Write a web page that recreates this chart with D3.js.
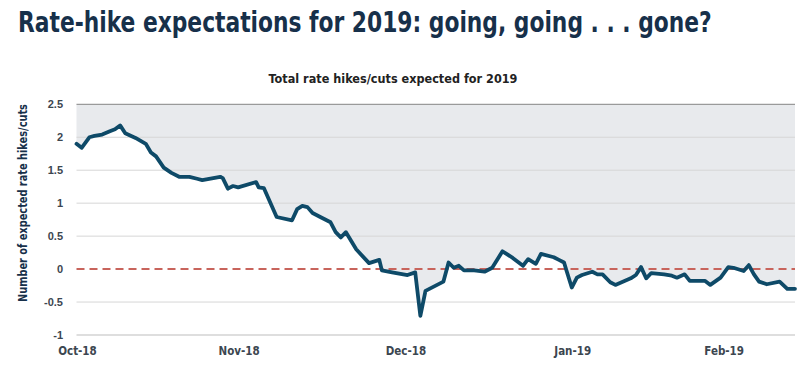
<!DOCTYPE html>
<html><head><meta charset="utf-8">
<script src="https://cdn.jsdelivr.net/npm/d3@7"></script>
<style>body{margin:0;background:#fff;}svg{display:block;}</style>
</head><body>
<script>
// observation index (trading-session position along the axis)
const obsIndex = [0,1,2.5,3.5,5,6.5,7.5,8.5,9.5,11.5,13.5,14.5,15.5,17,18.5,20,22,23.5,24.5,28,28.5,29.5,30.5,31.5,35,35.5,36.5,39,42,43,44,45,46,47.5,49.5,50.5,51.5,52.5,54.5,57,59,59.5,61.5,64.5,66,67,68,71.5,72.5,73.5,74.5,75.5,77.5,79.5,81,83,85,87,88,89.5,90.5,93,94,95,95.5,96.5,97.5,98.5,100.5,101.5,102.5,104,105,108,109,110,111,112,114.5,116,117,118.5,119.5,122.5,123.5,125.5,127,128,130,131,132,133,134.5,137,138.5,140];
const expectedHikes = [1.90,1.84,2.00,2.02,2.04,2.09,2.12,2.18,2.06,1.99,1.90,1.77,1.71,1.54,1.46,1.40,1.40,1.37,1.35,1.40,1.38,1.22,1.26,1.24,1.32,1.24,1.23,0.79,0.74,0.91,0.96,0.94,0.85,0.79,0.71,0.56,0.48,0.56,0.30,0.09,0.14,-0.02,-0.05,-0.09,-0.05,-0.71,-0.33,-0.19,0.10,0.02,0.05,-0.02,-0.02,-0.04,0.02,0.27,0.17,0.05,0.15,0.08,0.23,0.18,0.14,0.10,-0.03,-0.28,-0.13,-0.09,-0.04,-0.08,-0.08,-0.20,-0.24,-0.14,-0.09,0.03,-0.14,-0.06,-0.08,-0.10,-0.13,-0.08,-0.18,-0.18,-0.24,-0.13,0.03,0.02,-0.03,0.06,-0.08,-0.19,-0.23,-0.19,-0.30,-0.30];
const xTickIndex = [0,31.5,64,96.5,126];
const xTickLabels = ["Oct-18","Nov-18","Dec-18","Jan-19","Feb-19"];
const yTicks = [-1,-0.5,0,0.5,1,1.5,2,2.5];
const yTickLabels = ["-1","-0.5","0","0.5","1","1.5","2","2.5"];

const W=800,H=369;
const svg=d3.select("body").append("svg").attr("width",W).attr("height",H);
const x=d3.scaleLinear().domain([0,140]).range([76.5,795]);
const y=d3.scaleLinear().domain([-1,2.5]).range([335,104.3]);
const data=obsIndex.map((d,i)=>({i:d,v:expectedHikes[i]}));

// place text squeezed horizontally to a target width (anchor: start or middle)
function fitText(g, str, targetW, anchor){
  const t=g.append("text").attr("text-anchor",anchor).text(str);
  return t;
}
function squeeze(t, targetW, anchorX, baseY, rotate){
  const w=t.node().getComputedTextLength();
  const s=Math.min(1,targetW/w);
  if(rotate){
    t.attr("transform",`translate(${anchorX},${baseY}) rotate(-90) scale(${s},1)`);
  } else {
    t.attr("transform",`translate(${anchorX},${baseY}) scale(${s},1)`);
  }
}

const title=svg.append("text").attr("x",0).attr("y",0)
  .attr("font-family","'DejaVu Sans Condensed','Roboto',sans-serif")
  .attr("font-weight","bold").attr("font-size",28).attr("fill","#17304a")
  .text("Rate-hike expectations for 2019: going, going . . . gone?");
squeeze(title,694,18,32,false);

const sub=svg.append("text").attr("x",0).attr("y",0).attr("text-anchor","middle")
  .attr("font-family","'DejaVu Sans Condensed',sans-serif")
  .attr("font-weight","bold").attr("font-size",13).attr("fill","#222")
  .text("Total rate hikes/cuts expected for 2019");
squeeze(sub,249,393,83,false);

// area above line
svg.append("path").datum(data)
  .attr("d",d3.area().x(d=>x(d.i)).y0(y(2.5)).y1(d=>y(d.v)))
  .attr("fill","#e8eaed");

// gridlines
svg.append("g").selectAll("line").data(yTicks).join("line")
  .attr("x1",x(0)).attr("x2",x(140)).attr("y1",d=>y(d)).attr("y2",d=>y(d))
  .attr("stroke",d=>d===2.5?"#9a9a9a":(d===-1?"#bdbdbd":"#d6d6d6")).attr("stroke-width",d=>d===2.5?1.2:1)
  .attr("display",d=>d===0?"none":null);

// zero dashed line
svg.append("line").attr("x1",x(0)).attr("x2",x(140)).attr("y1",y(0)).attr("y2",y(0))
  .attr("stroke","#c8645c").attr("stroke-width",2).attr("stroke-dasharray","8,5");

// y axis labels
svg.append("g").selectAll("text").data(yTicks).join("text")
  .attr("x",63).attr("y",d=>y(d)+4).attr("text-anchor","end")
  .attr("font-family","'Liberation Sans','Arial',sans-serif").attr("font-weight","bold")
  .attr("font-size",11).attr("fill","#3c4650").text((d,i)=>yTickLabels[i]);

// x axis labels
svg.append("g").selectAll("text").data(xTickIndex).join("text")
  .attr("x",d=>x(d)+1).attr("y",355).attr("text-anchor","middle")
  .attr("font-family","'DejaVu Sans Condensed','Liberation Sans',sans-serif").attr("font-weight","bold")
  .attr("font-size",11.5).attr("fill","#3c4650").text((d,i)=>xTickLabels[i]);

// y title
const yt=svg.append("text").attr("x",0).attr("y",0).attr("text-anchor","middle")
  .attr("font-family","'DejaVu Sans Condensed',sans-serif")
  .attr("font-weight","bold").attr("font-size",13).attr("fill","#17304a")
  .text("Number of expected rate hikes/cuts");
squeeze(yt,198,27,203,true);

// line
svg.append("path").datum(data)
  .attr("d",d3.line().x(d=>x(d.i)).y(d=>y(d.v)))
  .attr("fill","none").attr("stroke","#0e4a68").attr("stroke-width",3.8)
  .attr("stroke-linejoin","round").attr("stroke-linecap","round");
</script>
</body></html>
